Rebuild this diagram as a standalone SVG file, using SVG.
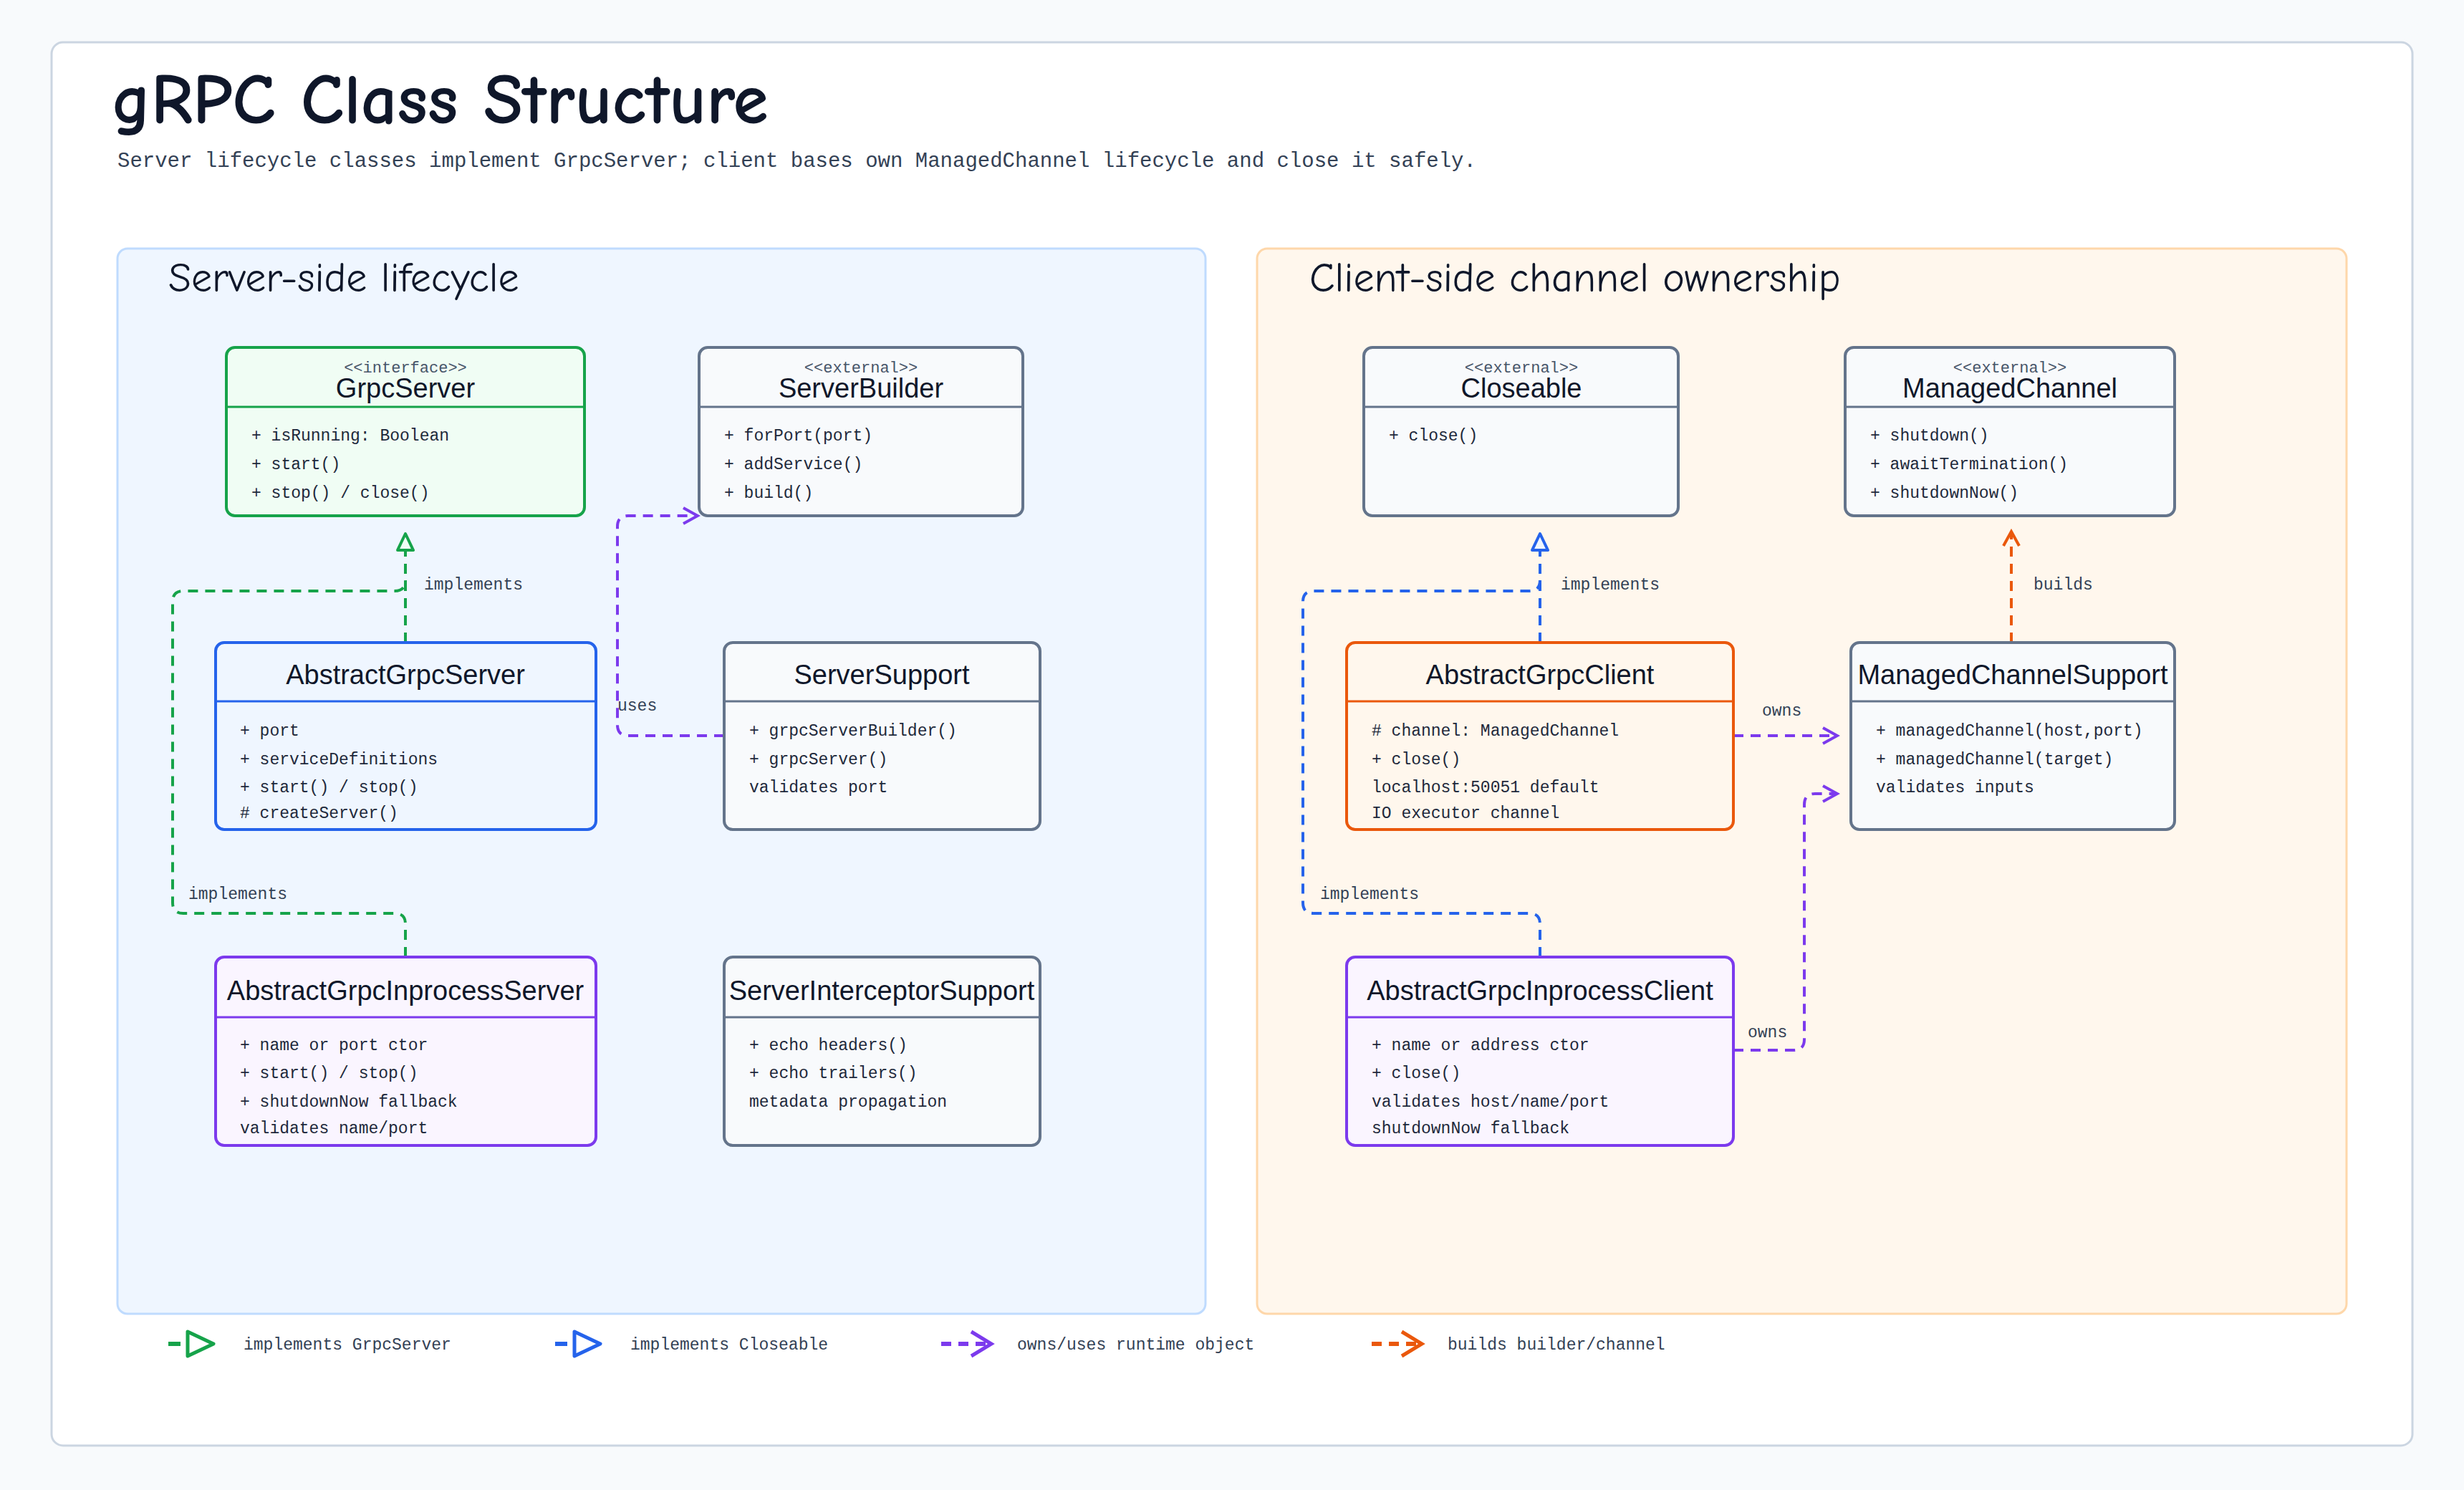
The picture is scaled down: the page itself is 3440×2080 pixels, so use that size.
<svg xmlns="http://www.w3.org/2000/svg" width="3440" height="2080" viewBox="0 0 3440 2080">
<defs>
<style>
.hand{font-family:"Comic Neue","Liberation Sans",sans-serif;fill:#0f172a}
.mono{font-family:"Liberation Mono","DejaVu Sans Mono",monospace;fill:#334155}
.attr{font-family:"Liberation Mono","DejaVu Sans Mono",monospace;font-size:23px;fill:#1e293b}
.ster{font-family:"Liberation Mono",monospace;font-size:22px;fill:#475569;text-anchor:middle}
.name{font-family:"Liberation Sans",sans-serif;font-size:38px;fill:#0f172a;text-anchor:middle}
.lbl{font-family:"Liberation Mono",monospace;font-size:23px;fill:#334155}
.c{fill:none;stroke-width:4;stroke-dasharray:14 10;stroke-linejoin:round}
</style>
<marker id="triG" markerWidth="30" markerHeight="30" refX="26" refY="15" orient="auto" markerUnits="userSpaceOnUse" viewBox="0 0 30 30"><path d="M3,4 L26,15 L3,26 Z" fill="#f0fdf4" stroke="#16a34a" stroke-width="4" stroke-linejoin="round"/></marker>
<marker id="triB" markerWidth="30" markerHeight="30" refX="26" refY="15" orient="auto" markerUnits="userSpaceOnUse" viewBox="0 0 30 30"><path d="M3,4 L26,15 L3,26 Z" fill="#eff6ff" stroke="#2563eb" stroke-width="4" stroke-linejoin="round"/></marker>
<marker id="opP" markerWidth="28" markerHeight="28" refX="24" refY="14" orient="auto" markerUnits="userSpaceOnUse" viewBox="0 0 28 28"><path d="M4,3 L24,14 L4,25" fill="none" stroke="#7c3aed" stroke-width="4"/></marker>
<marker id="opO" markerWidth="28" markerHeight="28" refX="24" refY="14" orient="auto" markerUnits="userSpaceOnUse" viewBox="0 0 28 28"><path d="M4,3 L24,14 L4,25" fill="none" stroke="#ea580c" stroke-width="4"/></marker>
</defs>
<rect width="3440" height="2080" fill="#f8fafc"/>
<rect x="72" y="59" width="3296" height="1959" rx="16" fill="#ffffff" stroke="#cbd5e1" stroke-width="3"/>
<text class="hand" x="156" y="172" font-size="100" font-weight="bold">gRPC Class Structure</text>
<text class="mono" x="164" y="233" font-size="29">Server lifecycle classes implement GrpcServer; client bases own ManagedChannel lifecycle and close it safely.</text>

<g id="panel-server">
<rect x="164" y="347" width="1519" height="1487" rx="14" fill="#eff6ff" stroke="#bfdbfe" stroke-width="3"/>
<text class="hand" x="235" y="407" font-size="58">Server-side lifecycle</text>
</g>
<g id="panel-client">
<rect x="1755" y="347" width="1521" height="1487" rx="14" fill="#fff7ed" stroke="#fed7aa" stroke-width="3"/>
<text class="hand" x="1828" y="407" font-size="58">Client-side channel ownership</text>
</g>

<g id="connectors">
<path class="c" stroke="#16a34a" d="M566,897 L566,745" marker-end="url(#triG)"/>
<path class="c" stroke="#16a34a" d="M566,1336 L566,1290 Q566,1275 551,1275 L256,1275 Q241,1275 241,1260 L241,840 Q241,825 256,825 L551,825 Q566,825 566,810"/>
<text class="lbl" x="592" y="823">implements</text>
<text class="lbl" x="263" y="1255">implements</text>
<path class="c" stroke="#7c3aed" d="M1011,1027 L877,1027 Q862,1027 862,1012 L862,735 Q862,720 877,720 L974,720" marker-end="url(#opP)"/>
<text class="lbl" x="862" y="992">uses</text>
<path class="c" stroke="#2563eb" d="M2150,897 L2150,745" marker-end="url(#triB)"/>
<path class="c" stroke="#2563eb" d="M2150,1336 L2150,1290 Q2150,1275 2135,1275 L1834,1275 Q1819,1275 1819,1260 L1819,840 Q1819,825 1834,825 L2135,825 Q2150,825 2150,810"/>
<text class="lbl" x="2179" y="823">implements</text>
<text class="lbl" x="1843" y="1255">implements</text>
<path class="c" stroke="#7c3aed" d="M2420,1027 L2565,1027" marker-end="url(#opP)"/>
<text class="lbl" x="2460" y="999">owns</text>
<path class="c" stroke="#7c3aed" d="M2420,1466 L2504,1466 Q2519,1466 2519,1451 L2519,1123 Q2519,1108 2534,1108 L2565,1108" marker-end="url(#opP)"/>
<text class="lbl" x="2440" y="1448">owns</text>
<path class="c" stroke="#ea580c" d="M2808,897 L2808,742" marker-end="url(#opO)"/>
<text class="lbl" x="2839" y="823">builds</text>
</g>

<g id="GrpcServer">
<rect x="316" y="485" width="500" height="235" rx="12" fill="#f0fdf4" stroke="#16a34a" stroke-width="4"/>
<line x1="316" y1="568" x2="816" y2="568" stroke="#16a34a" stroke-width="3"/>
<text class="ster" x="566" y="520">&lt;&lt;interface&gt;&gt;</text>
<text class="name" x="566" y="555">GrpcServer</text>
<text class="attr" x="351" y="615">+ isRunning: Boolean</text>
<text class="attr" x="351" y="655">+ start()</text>
<text class="attr" x="351" y="695">+ stop() / close()</text>
</g>
<g id="ServerBuilder">
<rect x="976" y="485" width="452" height="235" rx="12" fill="#f8fafc" stroke="#64748b" stroke-width="4"/>
<line x1="976" y1="568" x2="1428" y2="568" stroke="#64748b" stroke-width="3"/>
<text class="ster" x="1202" y="520">&lt;&lt;external&gt;&gt;</text>
<text class="name" x="1202" y="555">ServerBuilder</text>
<text class="attr" x="1011" y="615">+ forPort(port)</text>
<text class="attr" x="1011" y="655">+ addService()</text>
<text class="attr" x="1011" y="695">+ build()</text>
</g>
<g id="AbstractGrpcServer">
<rect x="301" y="897" width="531" height="261" rx="12" fill="#eff6ff" stroke="#2563eb" stroke-width="4"/>
<line x1="301" y1="979" x2="832" y2="979" stroke="#2563eb" stroke-width="3"/>
<text class="name" x="566" y="955">AbstractGrpcServer</text>
<text class="attr" x="335" y="1027">+ port</text>
<text class="attr" x="335" y="1067">+ serviceDefinitions</text>
<text class="attr" x="335" y="1106">+ start() / stop()</text>
<text class="attr" x="335" y="1142"># createServer()</text>
</g>
<g id="ServerSupport">
<rect x="1011" y="897" width="441" height="261" rx="12" fill="#f8fafc" stroke="#64748b" stroke-width="4"/>
<line x1="1011" y1="979" x2="1452" y2="979" stroke="#64748b" stroke-width="3"/>
<text class="name" x="1231" y="955">ServerSupport</text>
<text class="attr" x="1046" y="1027">+ grpcServerBuilder()</text>
<text class="attr" x="1046" y="1067">+ grpcServer()</text>
<text class="attr" x="1046" y="1106">validates port</text>
</g>
<g id="AbstractGrpcInprocessServer">
<rect x="301" y="1336" width="531" height="263" rx="12" fill="#faf5ff" stroke="#7c3aed" stroke-width="4"/>
<line x1="301" y1="1420" x2="832" y2="1420" stroke="#7c3aed" stroke-width="3"/>
<text class="name" x="566" y="1396" font-size="34">AbstractGrpcInprocessServer</text>
<text class="attr" x="335" y="1466">+ name or port ctor</text>
<text class="attr" x="335" y="1505">+ start() / stop()</text>
<text class="attr" x="335" y="1545">+ shutdownNow fallback</text>
<text class="attr" x="335" y="1582">validates name/port</text>
</g>
<g id="ServerInterceptorSupport">
<rect x="1011" y="1336" width="441" height="263" rx="12" fill="#f8fafc" stroke="#64748b" stroke-width="4"/>
<line x1="1011" y1="1420" x2="1452" y2="1420" stroke="#64748b" stroke-width="3"/>
<text class="name" x="1231" y="1396" font-size="34">ServerInterceptorSupport</text>
<text class="attr" x="1046" y="1466">+ echo headers()</text>
<text class="attr" x="1046" y="1505">+ echo trailers()</text>
<text class="attr" x="1046" y="1545">metadata propagation</text>
</g>

<g id="Closeable">
<rect x="1904" y="485" width="439" height="235" rx="12" fill="#f8fafc" stroke="#64748b" stroke-width="4"/>
<line x1="1904" y1="568" x2="2343" y2="568" stroke="#64748b" stroke-width="3"/>
<text class="ster" x="2124" y="520">&lt;&lt;external&gt;&gt;</text>
<text class="name" x="2124" y="555">Closeable</text>
<text class="attr" x="1939" y="615">+ close()</text>
</g>
<g id="ManagedChannel">
<rect x="2576" y="485" width="460" height="235" rx="12" fill="#f8fafc" stroke="#64748b" stroke-width="4"/>
<line x1="2576" y1="568" x2="3036" y2="568" stroke="#64748b" stroke-width="3"/>
<text class="ster" x="2806" y="520">&lt;&lt;external&gt;&gt;</text>
<text class="name" x="2806" y="555">ManagedChannel</text>
<text class="attr" x="2611" y="615">+ shutdown()</text>
<text class="attr" x="2611" y="655">+ awaitTermination()</text>
<text class="attr" x="2611" y="695">+ shutdownNow()</text>
</g>
<g id="AbstractGrpcClient">
<rect x="1880" y="897" width="540" height="261" rx="12" fill="#fff7ed" stroke="#ea580c" stroke-width="4"/>
<line x1="1880" y1="979" x2="2420" y2="979" stroke="#ea580c" stroke-width="3"/>
<text class="name" x="2150" y="955">AbstractGrpcClient</text>
<text class="attr" x="1915" y="1027"># channel: ManagedChannel</text>
<text class="attr" x="1915" y="1067">+ close()</text>
<text class="attr" x="1915" y="1106">localhost:50051 default</text>
<text class="attr" x="1915" y="1142">IO executor channel</text>
</g>
<g id="ManagedChannelSupport">
<rect x="2584" y="897" width="452" height="261" rx="12" fill="#f8fafc" stroke="#64748b" stroke-width="4"/>
<line x1="2584" y1="979" x2="3036" y2="979" stroke="#64748b" stroke-width="3"/>
<text class="name" x="2810" y="955" font-size="34">ManagedChannelSupport</text>
<text class="attr" x="2619" y="1027">+ managedChannel(host,port)</text>
<text class="attr" x="2619" y="1067">+ managedChannel(target)</text>
<text class="attr" x="2619" y="1106">validates inputs</text>
</g>
<g id="AbstractGrpcInprocessClient">
<rect x="1880" y="1336" width="540" height="263" rx="12" fill="#faf5ff" stroke="#7c3aed" stroke-width="4"/>
<line x1="1880" y1="1420" x2="2420" y2="1420" stroke="#7c3aed" stroke-width="3"/>
<text class="name" x="2150" y="1396" font-size="34">AbstractGrpcInprocessClient</text>
<text class="attr" x="1915" y="1466">+ name or address ctor</text>
<text class="attr" x="1915" y="1505">+ close()</text>
<text class="attr" x="1915" y="1545">validates host/name/port</text>
<text class="attr" x="1915" y="1582">shutdownNow fallback</text>
</g>

<g id="legend">
<path d="M235,1876 L252,1876" stroke="#16a34a" stroke-width="6"/>
<path d="M262,1859 L298,1876 L262,1893 Z" fill="none" stroke="#16a34a" stroke-width="5" stroke-linejoin="round"/>
<text class="lbl" x="340" y="1884">implements GrpcServer</text>
<path d="M775,1876 L792,1876" stroke="#2563eb" stroke-width="6"/>
<path d="M802,1859 L838,1876 L802,1893 Z" fill="none" stroke="#2563eb" stroke-width="5" stroke-linejoin="round"/>
<text class="lbl" x="880" y="1884">implements Closeable</text>
<path d="M1314,1876 L1380,1876" stroke="#7c3aed" stroke-width="6" stroke-dasharray="14 10"/>
<path d="M1356,1859 L1384,1876 L1356,1893" fill="none" stroke="#7c3aed" stroke-width="5"/>
<text class="lbl" x="1420" y="1884">owns/uses runtime object</text>
<path d="M1915,1876 L1981,1876" stroke="#ea580c" stroke-width="6" stroke-dasharray="14 10"/>
<path d="M1957,1859 L1985,1876 L1957,1893" fill="none" stroke="#ea580c" stroke-width="5"/>
<text class="lbl" x="2021" y="1884">builds builder/channel</text>
</g>
</svg>
